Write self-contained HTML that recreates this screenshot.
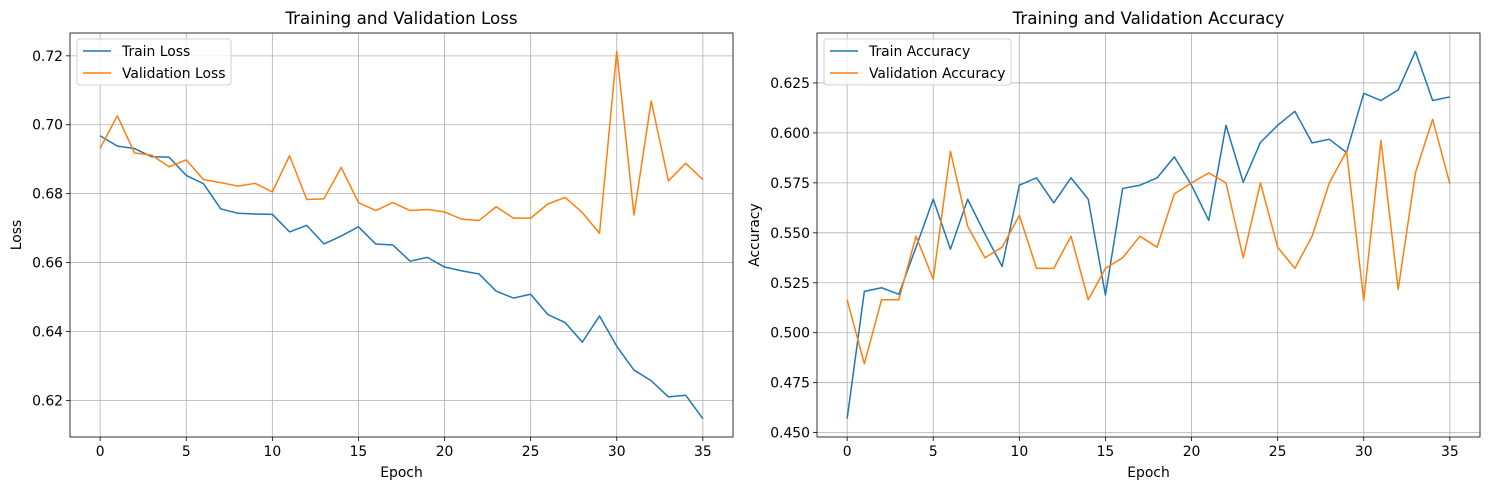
<!DOCTYPE html>
<html><head><meta charset="utf-8"><style>
body{margin:0;background:#fff;}
svg{display:block;font-family:"DejaVu Sans","Liberation Sans",sans-serif;}
</style></head><body>
<svg id="fig" width="1489" height="490" viewBox="0 0 1489 490" xmlns="http://www.w3.org/2000/svg"></svg>
<script>
const epochs = Array.from({length:36},(_,i)=>i);
const trainLoss = [0.6968,0.6938,0.6931,0.6907,0.6906,0.6853,0.6829,0.6756,0.6743,0.6741,0.6740,0.6689,0.6708,0.6654,0.6677,0.6704,0.6654,0.6651,0.6604,0.6615,0.6587,0.6576,0.6567,0.6517,0.6497,0.6508,0.6449,0.6426,0.6369,0.6445,0.6357,0.6288,0.6257,0.6210,0.6215,0.6147];
const valLoss = [0.6932,0.7026,0.6918,0.6912,0.6878,0.6898,0.6841,0.6832,0.6822,0.6830,0.6805,0.6910,0.6783,0.6785,0.6876,0.6774,0.6751,0.6774,0.6751,0.6754,0.6747,0.6726,0.6722,0.6762,0.6729,0.6729,0.6770,0.6789,0.6745,0.6685,0.7213,0.6738,0.7069,0.6837,0.6888,0.6841];
const trainAcc = [0.457,0.5207,0.5225,0.5192,0.5428,0.5668,0.5418,0.5668,0.5495,0.5332,0.5738,0.5775,0.565,0.5775,0.5668,0.5188,0.5722,0.5738,0.5775,0.588,0.5738,0.5562,0.6038,0.5753,0.5952,0.6038,0.6108,0.595,0.5968,0.5902,0.6198,0.6162,0.6215,0.6408,0.6162,0.618];
const valAcc = [0.5165,0.4845,0.5165,0.5165,0.5483,0.5268,0.5908,0.5533,0.5375,0.5428,0.5587,0.5322,0.5322,0.5483,0.5165,0.5322,0.5375,0.5483,0.5428,0.5695,0.575,0.58,0.575,0.5375,0.575,0.5428,0.5322,0.5483,0.575,0.5908,0.5162,0.5962,0.5217,0.58,0.6068,0.5745];
const xTicks = [0,5,10,15,20,25,30,35];
const lossTicks = [0.62,0.64,0.66,0.68,0.70,0.72];
const accTicks = [0.450,0.475,0.500,0.525,0.550,0.575,0.600,0.625];

const NS="http://www.w3.org/2000/svg";
const svg=document.getElementById('fig');
function mk(tag,attrs,parent){const e=document.createElementNS(NS,tag);for(const k in attrs)e.setAttribute(k,attrs[k]);(parent||svg).appendChild(e);return e;}
const FS=13.9;

function panel(opt){
  const g=mk('g',{});
  
  
  const L=opt.left,R=opt.right,T=33,B=437;
  const all=opt.s1.concat(opt.s2);
  const mn=Math.min(...all),mx=Math.max(...all),pad=(mx-mn)*0.05;
  const ymin=mn-pad,ymax=mx+pad;
  const xs=v=>L+(v+1.75)/38.5*(R-L);
  const ys=v=>B-(v-ymin)/(ymax-ymin)*(B-T);
  xTicks.forEach(t=>{
    const l=mk('line',{x1:xs(t),x2:xs(t),y1:T,y2:B,stroke:'#b0b0b0','stroke-width':0.8},g);
    
    
    const tk=mk('line',{x1:xs(t),x2:xs(t),y1:B,y2:B+4,stroke:'#000','stroke-width':0.8},g);
    
    
    const tx=mk('text',{x:xs(t),y:B+19,'text-anchor':'middle','font-size':FS,fill:'#000'},g);
    tx.textContent=t;
    
    
  });
  opt.yTicks.forEach(t=>{
    const l=mk('line',{x1:L,x2:R,y1:ys(t),y2:ys(t),stroke:'#b0b0b0','stroke-width':0.8},g);
    
    
    const tk=mk('line',{x1:L-4,x2:L,y1:ys(t),y2:ys(t),stroke:'#000','stroke-width':0.8},g);
    
    
    const tx=mk('text',{x:L-7,y:ys(t)+5,'text-anchor':'end','font-size':FS,fill:'#000'},g);
    tx.textContent=t.toFixed(opt.dec);
    
    
  });
  [[opt.s1,'#1f77b4',opt.n1],[opt.s2,'#ff7f0e',opt.n2]].forEach(([s,c,n])=>{
    const p=mk('polyline',{points:s.map((v,i)=>xs(epochs[i])+','+ys(v)).join(' '),fill:'none',stroke:c,'stroke-width':1.5,'stroke-linejoin':'round'},g);
    
    
  });
  const fr=mk('rect',{x:L,y:T,width:R-L,height:B-T,fill:'none',stroke:'#000','stroke-width':0.8},g);
  
  
  const ti=mk('text',{x:(L+R)/2,y:24,'text-anchor':'middle','font-size':16.7,fill:'#000'},g);
  ti.textContent=opt.title;
  
  
  const xl=mk('text',{x:(L+R)/2,y:477,'text-anchor':'middle','font-size':FS,fill:'#000'},g);
  xl.textContent='Epoch';
  
  
  const yl=mk('text',{x:opt.ylx,y:(T+B)/2,'text-anchor':'middle','font-size':FS,fill:'#000',transform:`rotate(-90 ${opt.ylx} ${(T+B)/2})`},g);
  yl.textContent=opt.ylabel;
  
  
  const lg=mk('g',{},g);
  
  
  mk('rect',{x:L+7,y:39,width:opt.legW,height:46,rx:3,fill:'#fff','fill-opacity':0.8,stroke:'#d0d0d0','stroke-width':1},lg);
  [[opt.l1,'#1f77b4',51],[opt.l2,'#ff7f0e',73]].forEach(([t,c,y])=>{
    const e=mk('g',{},lg);
    
    
    mk('line',{x1:L+13,x2:L+41,y1:y,y2:y,stroke:c,'stroke-width':1.5},e);
    const tx=mk('text',{x:L+52,y:y+5,'font-size':FS,fill:'#000'},e);
    tx.textContent=t;
  });
}
panel({name:'loss-chart',left:70,right:733,s1:trainLoss,s2:valLoss,yTicks:lossTicks,dec:2,title:'Training and Validation Loss',ylabel:'Loss',ylx:21,l1:'Train Loss',l2:'Validation Loss',n1:'train-loss-line',n2:'validation-loss-line',legW:154});
panel({name:'accuracy-chart',left:817,right:1480,s1:trainAcc,s2:valAcc,yTicks:accTicks,dec:3,title:'Training and Validation Accuracy',ylabel:'Accuracy',ylx:759,l1:'Train Accuracy',l2:'Validation Accuracy',n1:'train-accuracy-line',n2:'validation-accuracy-line',legW:187});
</script>
</body></html>
